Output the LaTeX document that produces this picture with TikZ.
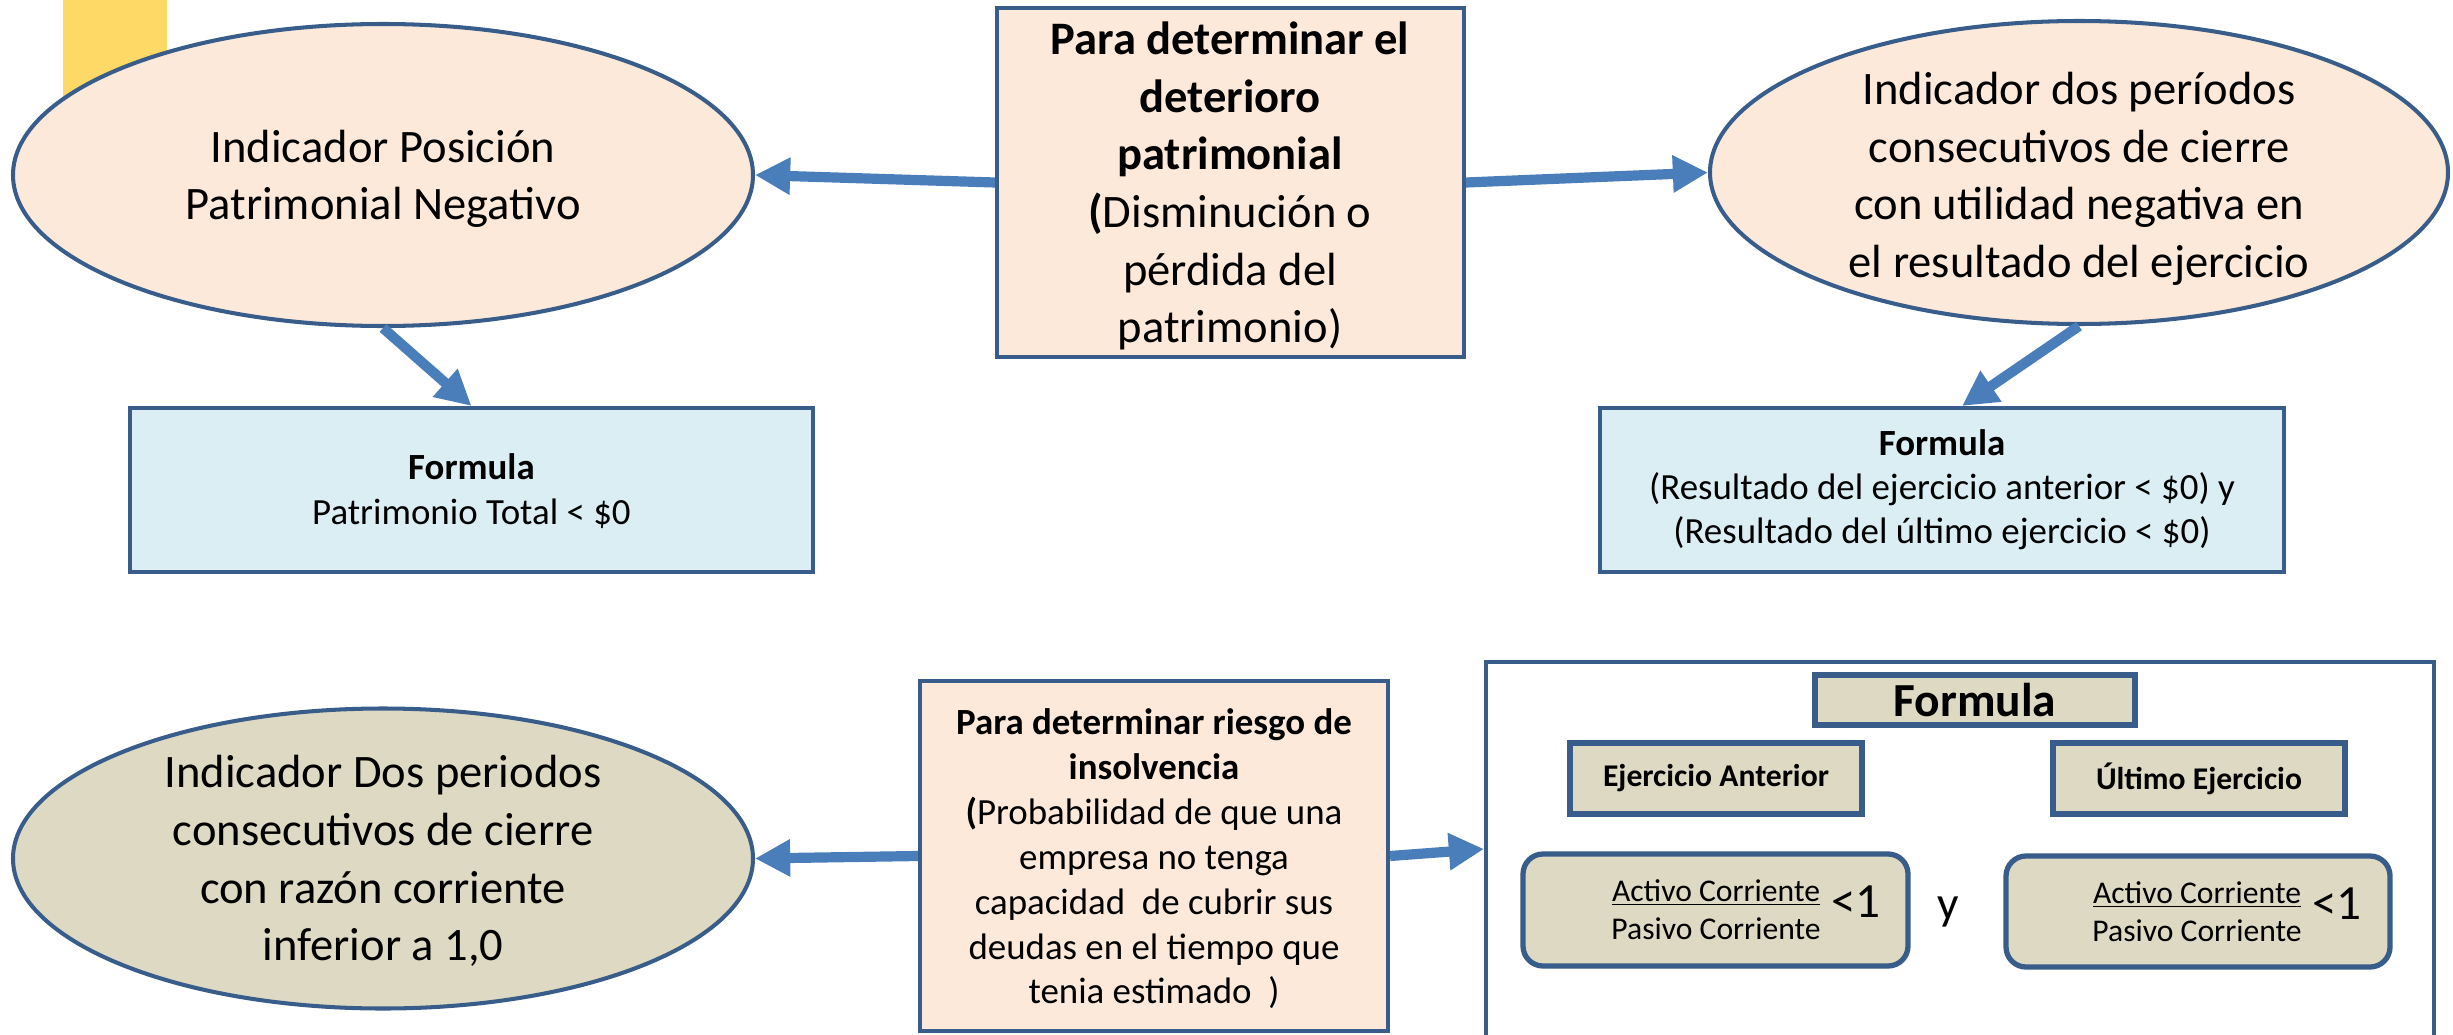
\documentclass[tikz,border=0pt]{standalone}
\usepackage{fontspec}
\setmainfont{Carlito}
\usetikzlibrary{shapes.geometric,arrows.meta}
\definecolor{bord}{HTML}{385D8A}
\definecolor{arr}{HTML}{4A7EBB}
\definecolor{peach}{HTML}{FDE9D9}
\definecolor{lblue}{HTML}{DBEEF4}
\definecolor{khaki}{HTML}{DDD9C3}
\definecolor{yell}{HTML}{FFD966}
\def\u{0.02cm}
\tikzset{
  ell/.style={ellipse, draw=bord, line width=2.3pt, inner sep=0pt},
  box/.style={rectangle, draw=bord, line width=2.3pt, inner sep=0pt},
  rbox/.style={rectangle, rounded corners=0.4cm, draw=bord, line width=3pt, inner sep=0pt, fill=khaki},
  hbox/.style={rectangle, draw=bord, line width=3pt, inner sep=0pt, fill=khaki},
  conn/.style={draw=arr, line width=5.8pt, -{Triangle[length=20pt,width=20pt]}},
  txt/.style={align=center, inner sep=0pt},
  big/.style={font=\fontsize{26.5}{32.8}\selectfont},
  mid/.style={font=\fontsize{21}{25.5}\selectfont},
}
\begin{document}
\begin{tikzpicture}[x=0.02cm, y=-0.02cm]
\useasboundingbox (0,0) rectangle (2453,1034);
\fill[yell] (63,0) rectangle (167,150);

% top row
\node[ell, fill=peach, minimum width={740*\u}, minimum height={302*\u}] (E1) at (383,175) {};
\node[txt, big] (T1) at (383,179) {Indicador Posición\\Patrimonial Negativo};

\node[box, fill=peach, minimum width={467*\u}, minimum height={349*\u}] (B1) at (1230.5,182.5) {};
\node[txt, big] (T2) at (1230,186) {\textbf{Para determinar el}\\\textbf{deterioro}\\\textbf{patrimonial}\\\textbf{(}Disminución o\\pérdida del\\patrimonio)};

\node[ell, fill=peach, minimum width={738*\u}, minimum height={303*\u}] (E2) at (2079,172.5) {};
\node[txt, big] (T3) at (2079,179) {Indicador dos períodos\\consecutivos de cierre\\con utilidad negativa en\\el resultado del ejercicio};

\node[box, fill=lblue, minimum width={683*\u}, minimum height={164*\u}] (F1) at (471.5,490) {};
\node[txt, font=\fontsize{21}{26}\selectfont] (T4) at (471.5,491) {\textbf{Formula}\\Patrimonio Total < \$0};

\node[box, fill=lblue, minimum width={684*\u}, minimum height={164*\u}] (F2) at (1942,490) {};
\node[txt, font=\fontsize{21}{25}\selectfont] (T5) at (1942,490) {\textbf{Formula}\\(Resultado del ejercicio anterior < \$0) y\\(Resultado del último ejercicio < \$0)};

% bottom row
\node[ell, fill=khaki, minimum width={740*\u}, minimum height={300*\u}] (E3) at (383,858.5) {};
\node[txt, big] (T6) at (383,861) {Indicador Dos periodos\\consecutivos de cierre\\con razón corriente\\inferior a 1,0};

\node[box, fill=peach, minimum width={468*\u}, minimum height={350*\u}] (B2) at (1154,856) {};
\node[txt, mid] (T7) at (1154,859) {\textbf{Para determinar riesgo de}\\\textbf{insolvencia}\\\textbf{(}Probabilidad de que una\\empresa no tenga\\capacidad\ \ de cubrir sus\\deudas en el tiempo que\\tenia estimado\ \ )};

\node[box, fill=white, minimum width={948*\u}, minimum height={398*\u}] (B3) at (1960,861) {};
\node[hbox, minimum width={320*\u}, minimum height={50*\u}, font=\fontsize{27}{30}\selectfont] (FT) at (1975,700) {\textbf{Formula}};
\node[hbox, minimum width={292*\u}, minimum height={71*\u}, font=\fontsize{18}{21}\selectfont] (EA) at (1716,778.5) {\textbf{Ejercicio Anterior}};
\node[hbox, minimum width={292*\u}, minimum height={71*\u}, font=\fontsize{18}{21}\selectfont] (UE) at (2199,778.5) {\textbf{Último Ejercicio}};

\node[rbox, minimum width={385*\u}, minimum height={112*\u}] (R1) at (1715.5,910) {};
\node[rbox, minimum width={384*\u}, minimum height={111*\u}] (R2) at (2198,911.5) {};
\node[txt, font=\fontsize{18}{21.5}\selectfont] (Q1) at (1716,910) {\underline{Activo Corriente}\\Pasivo Corriente};
\node[txt, font=\fontsize{28}{30}\selectfont] (L1) at (1856,902) {<1};
\node[txt, font=\fontsize{18}{21.5}\selectfont] (Q2) at (2197,912) {\underline{Activo Corriente}\\Pasivo Corriente};
\node[txt, font=\fontsize{28}{30}\selectfont] (L2) at (2337,904) {<1};
\node[txt, font=\fontsize{27}{30}\selectfont] (Y) at (1948,912) {y};

% connectors
\draw[conn] (B1.west) -- (E1.east);
\draw[conn] (B1.east) -- (E2.west);
\draw[conn] (E1.south) -- (F1.north);
\draw[conn] (E2.south) -- ([xshift=0.4cm]F2.north);
\draw[conn] (B2.west) -- (E3.east);
\draw[conn] (B2.east) -- ([yshift=0.24cm]B3.west);
\end{tikzpicture}
\end{document}
